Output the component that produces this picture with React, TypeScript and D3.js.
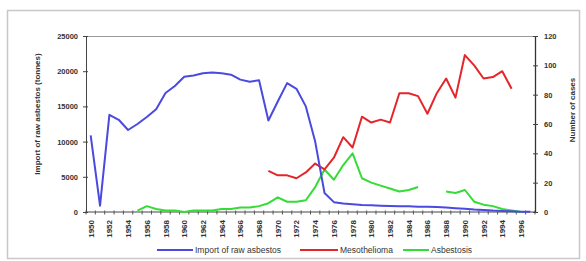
import React, { useEffect, useRef } from 'react';
import * as d3 from 'd3';

// years on the category axis (label every second year)
const years: number[] = d3.range(1950, 1998);

// import of raw asbestos, tonnes (left axis)
const importTonnes: number[] = [
  10900, 900, 13800, 13100, 11650, 12500, 13500, 14600, 16900, 17900,
  19200, 19400, 19700, 19800, 19700, 19500, 18800, 18500, 18700, 13000,
  15700, 18300, 17500, 15000, 10000, 2700, 1400, 1200, 1100, 1000,
  950, 900, 850, 800, 800, 750, 750, 700, 650, 550,
  450, 350, 300, 200, 150, 100, 50, 20,
];

// number of mesothelioma cases (right axis)
const mesothelioma: (number | null)[] = [
  null, null, null, null, null, null, null, null, null, null,
  null, null, null, null, null, null, null, null, null, 28,
  25, 25, 23, 27, 33, 29, 37, 51, 44, 65,
  61, 63, 61, 81, 81, 79, 67, 81, 91, 78,
  107, 100, 91, 92, 96, 84, null, null,
];

// number of asbestosis cases (right axis)
const asbestosis: (number | null)[] = [
  null, null, null, null, null, 1, 4, 2, 1, 1,
  0, 1, 1, 1, 2, 2, 3, 3, 4, 6,
  10, 7, 7, 8, 17, 29, 22, 32, 40, 23,
  20, 18, 16, 14, 15, 17, null, null, 14, 13,
  15, 7, 5, 4, 2, 1, 0, null,
];

const leftTicks = [0, 5000, 10000, 15000, 20000, 25000];
const rightTicks = [0, 20, 40, 60, 80, 100, 120];

const W = 586;
const H = 261;
const margin = { top: 36, right: 51, bottom: 49, left: 86 };
const font = '"Liberation Sans", Arial, sans-serif';

export default function App() {
  const svgRef = useRef<SVGSVGElement>(null);

  useEffect(() => {
    const svg = d3.select(svgRef.current);
    svg.selectAll('*').remove();

    const width = W - margin.left - margin.right;
    const height = H - margin.top - margin.bottom;

    // outer frame
    svg.append('rect')
      .attr('x', 7.5).attr('y', 10.5)
      .attr('width', W - 14).attr('height', H - 13)
      .attr('fill', '#fff').attr('stroke', '#c8c8c8').attr('stroke-width', 1.5);

    const g = svg.append('g')
      .attr('transform', 'translate(' + margin.left + ',' + margin.top + ')');

    const x = d3.scaleBand<number>().domain(years).range([0, width]);
    const yL = d3.scaleLinear().domain([0, 25000]).range([height, 0]);
    const yR = d3.scaleLinear().domain([0, 120]).range([height, 0]);
    const cx = (d: number) => (x(d) as number) + x.bandwidth() / 2;

    // plot area top border
    g.append('line')
      .attr('x1', 0).attr('x2', width).attr('y1', 0.5).attr('y2', 0.5)
      .attr('stroke', '#999');

    // x axis: tick at every category boundary, label every second year
    const xAxis = g.append('g').attr('transform', 'translate(0,' + height + ')');
    xAxis.append('line')
      .attr('x1', 0).attr('x2', width).attr('stroke', '#444');
    xAxis.selectAll('.tk')
      .data(d3.range(years.length + 1))
      .enter().append('line')
      .attr('x1', i => i * x.step()).attr('x2', i => i * x.step())
      .attr('y1', -1.5).attr('y2', 2.5)
      .attr('stroke', '#555');
    xAxis.selectAll('.lbl')
      .data(years.filter((d, i) => i % 2 === 0))
      .enter().append('text')
      .attr('transform', d => 'translate(' + (cx(d) + 3) + ',8) rotate(-90)')
      .attr('text-anchor', 'end')
      .attr('font-family', font).attr('font-size', '8px').attr('font-weight', 'bold')
      .attr('fill', '#333')
      .text(d => d);

    // left axis
    const la = g.append('g').call(
      d3.axisLeft(yL).tickValues(leftTicks).tickFormat(d3.format('d'))
        .tickSize(4).tickSizeOuter(0).tickPadding(4)
    );
    la.select('.domain').attr('stroke', '#444');
    la.selectAll('.tick line').attr('stroke', '#444').attr('x2', -3).attr('x1', 2);
    la.selectAll('text')
      .attr('font-family', font).attr('font-size', '7.5px').attr('font-weight', 'bold')
      .attr('fill', '#333');

    // right axis
    const ra = g.append('g').attr('transform', 'translate(' + width + ',0)').call(
      d3.axisRight(yR).tickValues(rightTicks).tickFormat(d3.format('d'))
        .tickSize(4).tickSizeOuter(0).tickPadding(5)
    );
    ra.select('.domain').attr('stroke', '#333').attr('stroke-width', 1.3);
    ra.selectAll('.tick line').attr('stroke', '#444').attr('x1', -2).attr('x2', 3);
    ra.selectAll('text')
      .attr('font-family', font).attr('font-size', '7.5px').attr('font-weight', 'bold')
      .attr('fill', '#333');

    // axis titles
    svg.append('text')
      .attr('transform', 'translate(40,' + (margin.top + height / 2 - 10) + ') rotate(-90)')
      .attr('text-anchor', 'middle')
      .attr('font-family', font).attr('font-size', '8px').attr('font-weight', 'bold')
      .attr('fill', '#333')
      .text('Import of raw asbestos (tonnes)');
    svg.append('text')
      .attr('transform', 'translate(575,' + (margin.top + height / 2 - 14) + ') rotate(-90)')
      .attr('text-anchor', 'middle')
      .attr('font-family', font).attr('font-size', '8px').attr('font-weight', 'bold')
      .attr('fill', '#333')
      .text('Number of cases');

    // series
    const series = [
      { name: 'Import of raw asbestos', values: importTonnes, y: yL, color: '#4a4ae0' },
      { name: 'Mesothelioma', values: mesothelioma, y: yR, color: '#e4262b' },
      { name: 'Asbestosis', values: asbestosis, y: yR, color: '#35dc35' },
    ];

    series.slice().reverse().forEach(s => {
      const line = d3.line<number | null>()
        .defined(v => v !== null)
        .x((v, i) => cx(years[i]))
        .y(v => s.y(v as number));
      g.append('path')
        .datum(s.values)
        .attr('fill', 'none')
        .attr('stroke', s.color)
        .attr('stroke-width', 2)
        .attr('stroke-linejoin', 'round')
        .attr('d', line);
    });

    // legend
    const legend = svg.append('g').attr('transform', 'translate(0,250)');
    const legendX = [157, 300, 403];
    const legendLen = [36, 38, 26];
    series.forEach((s, i) => {
      legend.append('line')
        .attr('x1', legendX[i]).attr('x2', legendX[i] + legendLen[i])
        .attr('stroke', s.color).attr('stroke-width', 2);
      legend.append('text')
        .attr('x', legendX[i] + legendLen[i] + 2).attr('y', 3)
        .attr('font-family', font).attr('font-size', '8.5px')
        .attr('fill', '#333')
        .text(s.name);
    });
  }, []);

  return (
    <svg
      ref={svgRef}
      width={W}
      height={H}
      style={{ position: 'absolute', left: 0, top: 0, background: '#fff' }}
    />
  );
}
